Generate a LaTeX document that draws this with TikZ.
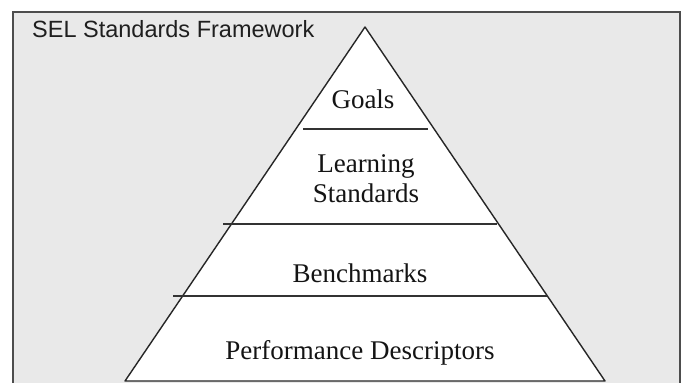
\documentclass[tikz,border=0pt]{standalone}
\usepackage{fontspec}
\setmainfont{Liberation Serif}
\newfontfamily\titlefont{Liberation Sans}
\usepackage{tikz}
\definecolor{framegray}{HTML}{E9E9E9}
\definecolor{edgegray}{HTML}{4D4D4D}
\tikzset{tier/.style={anchor=base, inner sep=0pt, font=\fontsize{27bp}{30bp}\selectfont, text=black!92, align=center}}
\tikzset{divider/.style={draw=black!80, line width=1.6bp}}

\begin{document}
\begin{tikzpicture}[x=1bp, y=-1bp]
      \useasboundingbox (0, 0) rectangle (687, 382);
      \clip (0, 0) rectangle (687, 382);

      \draw [fill=framegray, draw=edgegray, line width=2bp] (13, 12) rectangle (680, 400);

      \coordinate (apex) at (365, 27);
      \coordinate (baseL) at (125, 381);
      \coordinate (baseR) at (605, 381);
      \draw [fill=white, draw=black!85, line width=1.4bp, line join=round] (apex) -- (baseL) -- (baseR) -- cycle;

      \coordinate (goalsL) at (303, 129);
      \coordinate (goalsR) at (428, 129);
      \coordinate (learnL) at (223, 224);
      \coordinate (learnR) at (497, 224);
      \coordinate (benchL) at (173, 296);
      \coordinate (benchR) at (547, 296);
      \draw [divider] (goalsL) -- (goalsR);
      \draw [divider] (learnL) -- (learnR);
      \draw [divider] (benchL) -- (benchR);

      \node [anchor=base west, inner sep=0pt, font=\titlefont\fontsize{23.5bp}{26bp}\selectfont, text=black!88] (title) at (32, 37) {SEL Standards Framework};

      \node [tier] (goals) at (363, 108) {Goals};
      \node [tier] (learn) at (366, 202) {Learning\\Standards};
      \node [tier] (bench) at (360, 282) {Benchmarks};
      \node [tier] (perf) at (360, 359) {Performance Descriptors};
    \end{tikzpicture}
\end{document}
